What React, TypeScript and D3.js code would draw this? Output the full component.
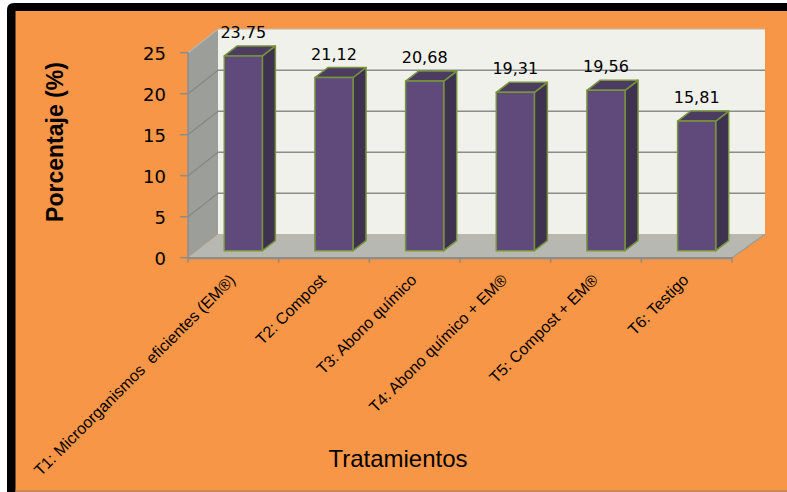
import React from "react";
import * as d3 from "d3";

const categories = [
  "T1: Microorganismos  eficientes (EM®)",
  "T2: Compost",
  "T3: Abono químico",
  "T4: Abono químico + EM®",
  "T5: Compost + EM®",
  "T6: Testigo",
];
const values = [23.75, 21.12, 20.68, 19.31, 19.56, 15.81];
const yTicks = [0, 5, 10, 15, 20, 25];
const yTitle = "Porcentaje (%)";
const xTitle = "Tratamientos";

const W = 787;
const H = 492;

export default function App() {
  const x = d3.scaleBand<string>().domain(categories).range([188, 732]).padding(0);
  const y = d3.scaleLinear().domain([0, 25]).range([257.7, 52.7]);
  const DX = 30;
  const DY = -23.5;
  const backRight = 765;
  const fmt = (v: number) => v.toFixed(2).replace(".", ",");

  const bw = x.bandwidth();
  const barW = bw * 0.42;
  const fOff = { dx: 10, dy: -7 };
  const sOff = { dx: 13, dy: -10 };

  const gridColor = "#8c8c8c";
  const bars = categories.map((c, i) => {
    const cx = (x(c) as number) + bw / 2 + fOff.dx;
    const x0 = cx - barW / 2;
    const x1 = cx + barW / 2;
    const yb = y(0) + fOff.dy;
    const yt = y(values[i]) + fOff.dy;
    return { c, i, cx, x0, x1, yb, yt, v: values[i] };
  });

  const floorPts = [
    [188, y(0)],
    [732, y(0)],
    [backRight, y(0) + DY],
    [188 + DX, y(0) + DY],
  ];
  const sidePts = [
    [188, y(0)],
    [188, y(25)],
    [188 + DX, y(25) + DY],
    [188 + DX, y(0) + DY],
  ];
  const pts = (p: number[][]) => p.map((q) => q.join(",")).join(" ");

  return (
    <svg
      width={W}
      height={H}
      style={{ position: "absolute", left: 0, top: 0, display: "block" }}
      xmlns="http://www.w3.org/2000/svg"
    >
      <rect x={0} y={0} width={W} height={H} fill="#ffffff" />
      <rect x={15} y={10.5} width={W - 15} height={H - 10.5} fill="#f79646" />
      <path
        d={`M7,${H} L7,10 Q7,3 14,3 L${W},3 L${W},11 L15.5,11 L15.5,${H} Z`}
        fill="#000000"
      />
      <rect x={15.5} y={490} width={W - 15.5} height={2} fill="#c98a57" />

      {/* back wall */}
      <rect
        x={188 + DX}
        y={y(25) + DY}
        width={backRight - 188 - DX}
        height={y(0) - y(25)}
        fill="#eff1ea"
      />
      {/* side wall */}
      <polygon points={pts(sidePts)} fill="#9c9e99" />
      {/* floor */}
      <polygon points={pts(floorPts)} fill="#b6b8b1" />

      {/* gridlines */}
      {yTicks.map((t) => (
        <g key={"g" + t}>
          {t > 0 && (
            <line
              x1={188 + DX}
              x2={backRight}
              y1={y(t) + DY}
              y2={y(t) + DY}
              stroke={t === 25 ? "#c9cac6" : gridColor}
              strokeWidth={t === 25 ? 1 : 1.6}
            />
          )}
          {t > 0 && (
            <line
              x1={188}
              y1={y(t)}
              x2={188 + DX}
              y2={y(t) + DY}
              stroke={t === 25 ? "#b5b6b2" : "#868784"}
              strokeWidth={1.3}
            />
          )}
        </g>
      ))}
      {/* floor edges */}
      <line x1={732} y1={y(0)} x2={backRight} y2={y(0) + DY} stroke="#9a9b97" strokeWidth={1.2} />
      <line x1={188} y1={y(0) + 0.5} x2={732} y2={y(0) + 0.5} stroke="#8c8c8c" strokeWidth={2.2} />

      {/* y axis */}
      <line x1={188} x2={188} y1={y(25)} y2={y(0)} stroke="#8c8c8c" strokeWidth={1.5} />
      {yTicks.map((t) => (
        <g key={"t" + t}>
          <line x1={180} x2={188} y1={y(t)} y2={y(t)} stroke="#8c8c8c" strokeWidth={1.5} />
          <text
            x={166}
            y={y(t) + 7}
            textAnchor="end"
            fontFamily="DejaVu Sans"
            fontSize={18}
            fill="#000"
          >
            {t}
          </text>
        </g>
      ))}
      {/* x ticks */}
      {categories.concat(["end"]).map((c, i) => {
        const xx = 188 + i * bw;
        return (
          <line key={"xt" + i} x1={xx} x2={xx} y1={y(0)} y2={y(0) + 5} stroke="#8c8c8c" strokeWidth={1.5} />
        );
      })}

      {/* bars */}
      {bars.map((b) => (
        <g key={"b" + b.i} stroke="#77933c" strokeWidth={1.5} strokeLinejoin="round">
          <polygon
            points={pts([
              [b.x1, b.yb],
              [b.x1, b.yt],
              [b.x1 + sOff.dx, b.yt + sOff.dy],
              [b.x1 + sOff.dx, b.yb + sOff.dy],
            ])}
            fill="#3f3150"
          />
          <polygon
            points={pts([
              [b.x0, b.yt],
              [b.x1, b.yt],
              [b.x1 + sOff.dx, b.yt + sOff.dy],
              [b.x0 + sOff.dx, b.yt + sOff.dy],
            ])}
            fill="#4c3c62"
          />
          <rect x={b.x0} y={b.yt} width={b.x1 - b.x0} height={b.yb - b.yt} fill="#604a7b" />
        </g>
      ))}

      {/* value labels */}
      {bars.map((b) => (
        <text
          key={"v" + b.i}
          x={b.cx}
          y={b.yt - 18}
          textAnchor="middle"
          fontFamily="DejaVu Sans"
          fontSize={16}
          fill="#000"
        >
          {fmt(b.v)}
        </text>
      ))}

      {/* category labels */}
      {categories.map((c) => {
        const px = (x(c) as number) + bw / 2 + 3;
        const py = 281;
        return (
          <text
            key={"c" + c}
            transform={`translate(${px},${py}) rotate(-45)`}
            textAnchor="end"
            fontFamily="Liberation Sans"
            fontSize={16}
            fill="#000"
            style={{ whiteSpace: "pre" }}
          >
            {c}
          </text>
        );
      })}

      {/* axis titles */}
      <text
        transform="translate(63,142) rotate(-90)"
        textAnchor="middle"
        fontFamily="Liberation Sans"
        fontWeight="bold"
        fontSize={23}
        fill="#000"
      >
        {yTitle}
      </text>
      <text
        x={398}
        y={467}
        textAnchor="middle"
        fontFamily="Liberation Sans"
        fontSize={24}
        fill="#000"
      >
        {xTitle}
      </text>
    </svg>
  );
}
